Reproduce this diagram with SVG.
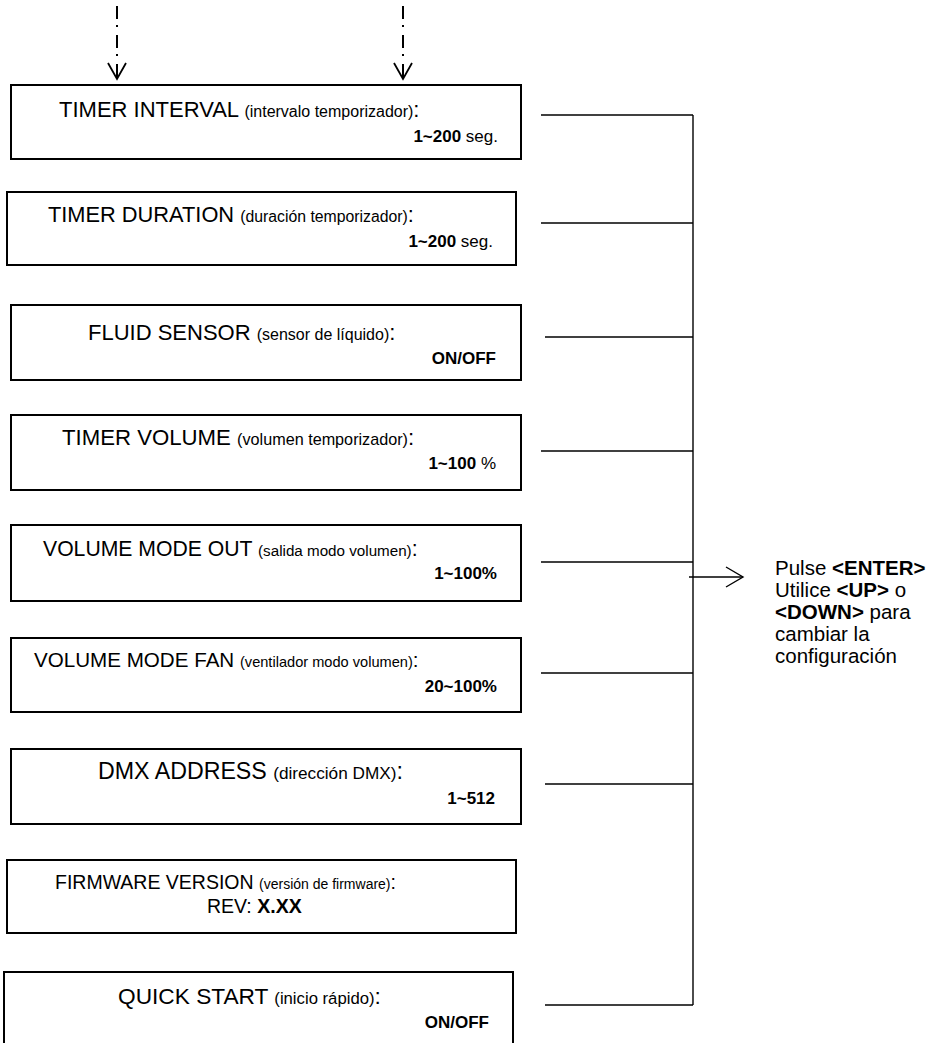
<svg xmlns="http://www.w3.org/2000/svg" width="936" height="1043" viewBox="0 0 936 1043">
<style>
text{font-family:"Liberation Sans",Arial,sans-serif;fill:#000}
.box{fill:#fff;stroke:#000;stroke-width:2}
.t2{font-size:17px}
.b{font-weight:bold}
.side{font-size:20.5px}
.ln{stroke:#000;stroke-width:1.4;fill:none}
.ah{stroke:#000;stroke-width:1.8;fill:none}
.dash{stroke:#000;stroke-width:2;fill:none;stroke-dasharray:13 6 2 8}
</style>
<g id="connectors">
  <line class="dash" x1="117" y1="6" x2="117" y2="79"/>
  <polyline class="ah" points="108,63 117,79 126,63"/>
  <line class="dash" x1="403" y1="6" x2="403" y2="79"/>
  <polyline class="ah" points="394,63 403,79 412,63"/>
  <line class="ln" x1="541" y1="115" x2="693" y2="115"/>
  <line class="ln" x1="541" y1="223" x2="693" y2="223"/>
  <line class="ln" x1="545" y1="337" x2="693" y2="337"/>
  <line class="ln" x1="541" y1="451" x2="693" y2="451"/>
  <line class="ln" x1="541" y1="562" x2="693" y2="562"/>
  <line class="ln" x1="541" y1="673" x2="693" y2="673"/>
  <line class="ln" x1="545" y1="784" x2="693" y2="784"/>
  <line class="ln" x1="545" y1="1005" x2="693" y2="1005"/>
  <line class="ln" x1="693" y1="115" x2="693" y2="1005"/>
  <line class="ln" x1="689" y1="577" x2="743" y2="577"/>
  <polyline class="ln" points="726,567 743,577 726,587"/>
</g>
<g id="n1">
  <rect class="box" x="11" y="85" width="510" height="74"/>
  <text x="59" y="117" style="font-size:22px">TIMER INTERVAL <tspan style="font-size:16px">(intervalo temporizador)</tspan>:</text>
  <text class="t2" x="498" y="142" text-anchor="end"><tspan class="b">1~200</tspan> seg.</text>
</g>
<g id="n2">
  <rect class="box" x="7" y="192" width="509" height="73"/>
  <text x="48" y="222" style="font-size:21.8px">TIMER DURATION <tspan style="font-size:15.8px">(duración temporizador)</tspan>:</text>
  <text class="t2" x="493" y="247" text-anchor="end"><tspan class="b">1~200</tspan> seg.</text>
</g>
<g id="n3">
  <rect class="box" x="11" y="305" width="510" height="75"/>
  <text x="88" y="340" style="font-size:22px">FLUID SENSOR <tspan style="font-size:16px">(sensor de líquido)</tspan>:</text>
  <text class="t2 b" x="496" y="364" text-anchor="end">ON/OFF</text>
</g>
<g id="n4">
  <rect class="box" x="11" y="415" width="510" height="75"/>
  <text x="62" y="445" style="font-size:22.2px">TIMER VOLUME <tspan style="font-size:16.2px">(volumen temporizador)</tspan>:</text>
  <text class="t2" x="496" y="469" text-anchor="end"><tspan class="b">1~100</tspan> %</text>
</g>
<g id="n5">
  <rect class="box" x="11" y="525" width="510" height="76"/>
  <text x="43" y="556" style="font-size:21.2px">VOLUME MODE OUT <tspan style="font-size:15.2px">(salida modo volumen)</tspan>:</text>
  <text class="t2 b" x="497" y="579" text-anchor="end">1~100%</text>
</g>
<g id="n6">
  <rect class="box" x="11" y="638" width="510" height="74"/>
  <text x="34" y="667" style="font-size:20.6px">VOLUME MODE FAN <tspan style="font-size:14.6px">(ventilador modo volumen)</tspan>:</text>
  <text class="t2 b" x="497" y="692" text-anchor="end">20~100%</text>
</g>
<g id="n7">
  <rect class="box" x="11" y="749" width="510" height="75"/>
  <text x="98" y="779" style="font-size:23.2px">DMX ADDRESS <tspan style="font-size:17.2px">(dirección DMX)</tspan>:</text>
  <text class="t2 b" x="495" y="804" text-anchor="end">1~512</text>
</g>
<g id="n8">
  <rect class="box" x="7" y="860" width="509" height="73"/>
  <text x="55" y="889" style="font-size:19.5px">FIRMWARE VERSION <tspan style="font-size:14px">(versión de firmware)</tspan>:</text>
  <text x="207" y="913" style="font-size:19.5px">REV: <tspan class="b">X.XX</tspan></text>
</g>
<g id="n9">
  <rect class="box" x="4" y="972" width="509" height="76"/>
  <text x="118" y="1004" style="font-size:22.7px">QUICK START <tspan style="font-size:16.7px">(inicio rápido)</tspan>:</text>
  <text class="t2 b" x="489" y="1028" text-anchor="end">ON/OFF</text>
</g>
<g id="note">
  <text class="side" x="775" y="575">Pulse <tspan class="b">&lt;ENTER&gt;</tspan></text>
  <text class="side" x="775" y="597">Utilice <tspan class="b">&lt;UP&gt;</tspan> o</text>
  <text class="side" x="775" y="619"><tspan class="b">&lt;DOWN&gt;</tspan> para</text>
  <text class="side" x="775" y="641">cambiar la</text>
  <text class="side" x="775" y="663">configuración</text>
</g>
</svg>
